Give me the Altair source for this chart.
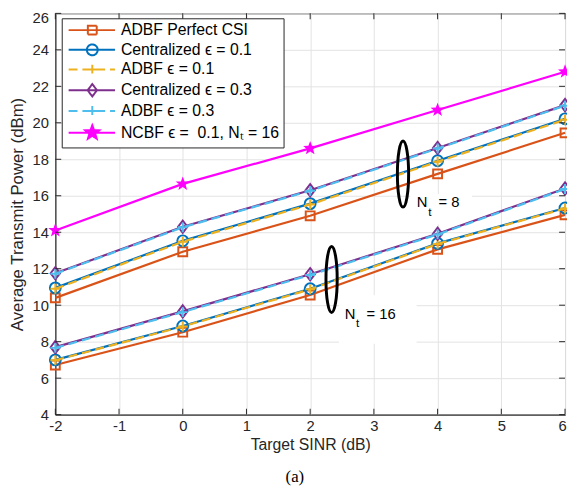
import math
import altair as alt
import pandas as pd

# ---------------- data ----------------
x_vals = [-2, 0, 2, 4, 6]

series_names = [
    "ADBF Perfect CSI",
    "Centralized \u03f5 = 0.1",
    "ADBF \u03f5 = 0.1",
    "Centralized \u03f5 = 0.3",
    "ADBF \u03f5 = 0.3",
    "NCBF \u03f5 =\u00a0 0.1, N\u209c = 16",
]

# N_t = 8 group
adbf_perfect_nt8 = [10.4, 12.93, 14.9, 17.2, 19.45]
central_01_nt8 = [10.95, 13.53, 15.57, 17.92, 20.22]
adbf_01_nt8 = [10.9, 13.48, 15.52, 17.87, 20.17]
central_03_nt8 = [11.75, 14.3, 16.3, 18.62, 20.97]
adbf_03_nt8 = [11.72, 14.27, 16.27, 18.59, 20.94]

# N_t = 16 group
adbf_perfect_nt16 = [6.72, 8.52, 10.56, 13.06, 14.95]
central_01_nt16 = [7.0, 8.86, 10.9, 13.39, 15.33]
adbf_01_nt16 = [6.98, 8.83, 10.87, 13.36, 15.3]
central_03_nt16 = [7.7, 9.66, 11.7, 13.92, 16.4]
adbf_03_nt16 = [7.66, 9.62, 11.66, 13.88, 16.37]

# NCBF, N_t = 16
ncbf_nt16 = [14.1, 16.65, 18.6, 20.7, 22.8]

x_ticks = [-2, -1, 0, 1, 2, 3, 4, 5, 6]
y_ticks = [4, 6, 8, 10, 12, 14, 16, 18, 20, 22, 24, 26]

# annotations (data coordinates)
ell_x = [3.457, 2.336]
ell_y = [17.19, 11.41]
ann_x = [3.674, 2.543]
ann_y = [15.37, 9.27]
ann_rest = ["= 8", "= 16"]
box_x1 = [3.57, 2.45]
box_x2 = [4.54, 3.67]
box_y1 = [14.43, 7.89]
box_y2 = [16.1, 10.54]

# ---------------- styles ----------------
colors = ["#D95319", "#0072BD", "#EDB120", "#7E2F8E", "#4DBEEE", "#FF00FF"]
dashes = [[1, 0], [1, 0], [9, 5], [1, 0], [9, 5], [1, 0]]


def star_path(cx, R, r):
    pts = []
    for k in range(10):
        ang = -math.pi / 2 + k * math.pi / 5
        rad = R if k % 2 == 0 else r
        pts.append((cx + rad * math.cos(ang), rad * math.sin(ang)))
    return "M" + "L".join(f"{px:.3f},{py:.3f}" for px, py in pts) + "Z"


plus_path = "M-1,0H1M0,-1V1"
diamond_path = "M0,-1.25L0.95,0L0,1.25L-0.95,0Z"
point_shapes = ["square", "circle", plus_path, diamond_path, plus_path, star_path(0, 1.5, 0.62)]
point_sizes = [81, 121, 100, 100, 100, 100]
point_filled = [False, False, False, False, False, True]

cx = 3.8
leg_line = "M-1,0H8.4"
legend_paths = [
    leg_line + f"M{cx-0.9},-0.9H{cx+0.9}V0.9H{cx-0.9}Z",
    leg_line + f"M{cx-1.1},0A1.1,1.1 0 1 0 {cx+1.1},0A1.1,1.1 0 1 0 {cx-1.1},0",
    leg_line + f"M{cx-1},0H{cx+1}M{cx},-1V1",
    leg_line + f"M{cx},-1.25L{cx+0.95},0L{cx},1.25L{cx-0.95},0Z",
    leg_line + f"M{cx-1},0H{cx+1}M{cx},-1V1",
    leg_line + star_path(cx, 1.5, 0.62),
]
legend_fills = ["transparent"] * 5 + ["#FF00FF"]

W, H = 517, 407
AX = "#262626"
FONT = "Liberation Sans"
LW = 2.2

# ---------------- long table ----------------
rows = []
groups = [
    (adbf_perfect_nt8, adbf_perfect_nt16),
    (central_01_nt8, central_01_nt16),
    (adbf_01_nt8, adbf_01_nt16),
    (central_03_nt8, central_03_nt16),
    (adbf_03_nt8, adbf_03_nt16),
]
for name, (a8, a16) in zip(series_names[:5], groups):
    for xv, yv in zip(x_vals, a8):
        rows.append({"x": xv, "y": yv, "series": name, "grp": "Nt8"})
    for xv, yv in zip(x_vals, a16):
        rows.append({"x": xv, "y": yv, "series": name, "grp": "Nt16"})
for xv, yv in zip(x_vals, ncbf_nt16):
    rows.append({"x": xv, "y": yv, "series": series_names[5], "grp": "NCBF"})
df = pd.DataFrame(rows)

xscale = alt.Scale(domain=[-2, 6], nice=False, zero=False)
yscale = alt.Scale(domain=[4, 26], nice=False, zero=False)
xaxis = alt.Axis(values=x_ticks, ticks=False, tickSize=0, labelPadding=4,
                 labelExpr="'' + datum.value", labelFlush=False,
                 labelOffset={"condition": {"test": "datum.value == 6", "value": -3}, "value": 0},
                 grid=True, gridColor="#e3e3e3", gridWidth=1, domainColor=AX,
                 labelColor=AX, labelFontSize=15, labelFont=FONT,
                 titleFontSize=16, titleFont=FONT, titleColor=AX,
                 titleFontWeight="normal", titlePadding=3)
yaxis = alt.Axis(values=y_ticks, ticks=False, tickSize=0, labelPadding=7,
                 labelExpr="'' + datum.value", labelFlush=False,
                 labelOffset={"condition": {"test": "datum.value == 26", "value": 4}, "value": 0},
                 grid=True, gridColor="#e3e3e3", gridWidth=1, domainColor=AX,
                 labelColor=AX, labelFontSize=15, labelFont=FONT,
                 titleFontSize=17, titleFont=FONT, titleColor=AX,
                 titleFontWeight="normal", titlePadding=6)


def X(field="x"):
    return alt.X(f"{field}:Q", scale=xscale, axis=xaxis, title="Target SINR (dB)")


def Y(field="y"):
    return alt.Y(f"{field}:Q", scale=yscale, axis=yaxis, title="Average Transmit Power (dBm)")


layers = []

# white boxes behind annotation texts
box_df = pd.DataFrame({"x": box_x1, "x2": box_x2, "y": box_y1, "y2": box_y2})
layers.append(alt.Chart(box_df).mark_rect(color="white").encode(
    x=X(), x2="x2:Q", y=Y(), y2="y2:Q"))

# series lines + markers
for i, name in enumerate(series_names):
    d = df[df["series"] == name]
    line_kw = dict(color=colors[i], strokeWidth=LW, clip=False)
    if dashes[i] != [1, 0]:
        line_kw["strokeDash"] = dashes[i]
    layers.append(alt.Chart(d).mark_line(**line_kw).encode(
        x=X(), y=Y(), detail="grp:N"))
    pkw = dict(shape=point_shapes[i], size=point_sizes[i], strokeWidth=2,
               opacity=1, clip=False)
    if point_filled[i]:
        pkw.update(filled=True, color=colors[i])
    else:
        pkw.update(filled=False, stroke=colors[i], fill="transparent", color=colors[i])
    layers.append(alt.Chart(d).mark_point(**pkw).encode(x=X(), y=Y()))

# inner ticks (MATLAB box style)
xt_df = pd.DataFrame({"x": x_ticks})
yt_df = pd.DataFrame({"y": y_ticks})
for yv in [H - 3, 3]:
    layers.append(alt.Chart(xt_df).mark_tick(orient="vertical", size=6, thickness=1,
                                             color=AX, opacity=1).encode(
        x=X(), y=alt.value(yv)))
for xv in [3, W - 3]:
    layers.append(alt.Chart(yt_df).mark_tick(orient="horizontal", size=6, thickness=1,
                                             color=AX, opacity=1).encode(
        y=Y(), x=alt.value(xv)))

# ellipses
ell_df = pd.DataFrame({"x": ell_x, "y": ell_y})
ellipse = "M-0.17,0A0.17,1 0 1 0 0.17,0A0.17,1 0 1 0 -0.17,0"
layers.append(alt.Chart(ell_df).mark_point(shape=ellipse, size=4489, filled=False,
                                           stroke="black", strokeWidth=3, opacity=1).encode(
    x=X(), y=Y()))

# annotation texts
ann_df = pd.DataFrame({"x": ann_x, "y": ann_y, "rest": ann_rest,
                       "N": ["N", "N"], "t": ["t", "t"]})
tkw = dict(align="left", baseline="alphabetic", font=FONT, color="black")
layers.append(alt.Chart(ann_df).mark_text(fontSize=15, **tkw).encode(
    x=X(), y=Y(), text="N:N"))
layers.append(alt.Chart(ann_df).mark_text(fontSize=12, dx=11.5, dy=9, **tkw).encode(
    x=X(), y=Y(), text="t:N"))
layers.append(alt.Chart(ann_df).mark_text(fontSize=15, dx=22, **tkw).encode(
    x=X(), y=Y(), text="rest:N"))

# legend layer (drawn off-canvas, only its legend is visible)
leg = alt.Legend(title=None, orient="none", legendX=6.5, legendY=5)
leg_df = pd.DataFrame({"series": series_names})
layers.append(alt.Chart(leg_df).mark_point(strokeWidth=2, opacity=1).encode(
    x=alt.value(-2000), y=alt.value(-2000),
    color=alt.Color("series:N", sort=series_names,
                    scale=alt.Scale(domain=series_names, range=colors), legend=leg),
    shape=alt.Shape("series:N", sort=series_names,
                    scale=alt.Scale(domain=series_names, range=legend_paths), legend=leg),
    strokeDash=alt.StrokeDash("series:N", sort=series_names,
                              scale=alt.Scale(domain=series_names, range=dashes), legend=leg),
    fill=alt.Fill("series:N", sort=series_names,
                  scale=alt.Scale(domain=series_names, range=legend_fills), legend=leg),
))

# caption
cap_df = pd.DataFrame({"cap": ["(a)"]})
layers.append(alt.Chart(cap_df).mark_text(font="Liberation Serif", fontSize=17,
                                          color="black", baseline="middle").encode(
    text="cap:N", x=alt.value(243), y=alt.value(470)))

chart = alt.layer(*layers).properties(
    width=W, height=H,
    autosize=alt.AutoSizeParams(type="none"),
    padding={"left": 48, "top": 2, "right": 2, "bottom": 72},
).configure(font=FONT).configure_view(stroke=AX, strokeWidth=1).configure_legend(
    strokeColor=AX, fillColor="white", padding=4, rowPadding=1,
    labelFont=FONT, labelFontSize=16, labelColor="black", labelLimit=400,
    labelOffset=40, symbolSize=100, symbolStrokeWidth=2, cornerRadius=0,
)

chart.save("out.html", embed_options={"renderer": "svg", "actions": False})
